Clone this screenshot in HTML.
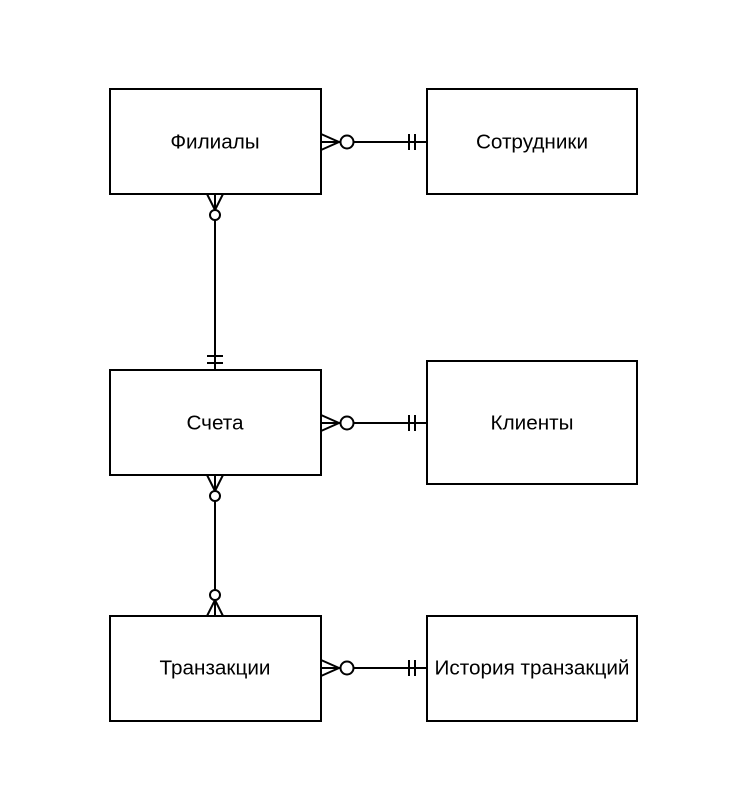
<!DOCTYPE html><html><head><style>body{margin:0;background:#fff}svg{display:block}text{font-family:"Liberation Sans",Arial,sans-serif;font-size:20.7px;text-anchor:middle;dominant-baseline:central}</style></head><body>
<svg width="748" height="798" viewBox="0 0 748 798">
<rect width="748" height="798" fill="#fff"/>
<g fill="#fff" stroke="#000" stroke-width="2">
<rect x="110" y="89" width="211" height="105"/>
<rect x="427" y="89" width="210" height="105"/>
<rect x="110" y="370" width="211" height="105"/>
<rect x="427" y="361" width="210" height="123"/>
<rect x="110" y="616" width="211" height="105"/>
<rect x="427" y="616" width="210" height="105"/>
</g>
<g fill="none" stroke="#000" stroke-width="2">
<g id="h">
<line x1="321" y1="142" x2="342" y2="142"/><line x1="352" y1="142" x2="427" y2="142"/>
<path d="M321 134 L339 142 L321 150"/>
<circle cx="347" cy="142" r="6.5" fill="#fff"/>
<line x1="409" y1="134" x2="409" y2="150"/><line x1="415" y1="134" x2="415" y2="150"/>
</g>
<use href="#h" y="281"/>
<use href="#h" y="526"/>
<line x1="215" y1="194" x2="215" y2="370"/>
<path d="M207 194 L215 210 L223 194"/>
<circle cx="215" cy="215" r="5" fill="#fff"/>
<line x1="207" y1="356" x2="223" y2="356"/><line x1="207" y1="363" x2="223" y2="363"/>
<line x1="215" y1="475" x2="215" y2="616"/>
<path d="M207 475 L215 491 L223 475"/>
<circle cx="215" cy="496" r="5" fill="#fff"/>
<path d="M207 616 L215 600 L223 616"/>
<circle cx="215" cy="595" r="5" fill="#fff"/>
</g>
<text x="215" y="142">Филиалы</text>
<text x="532" y="142">Сотрудники</text>
<text x="215" y="423">Счета</text>
<text x="532" y="423">Клиенты</text>
<text x="215" y="668">Транзакции</text>
<text x="532" y="668">История транзакций</text>
</svg></body></html>
